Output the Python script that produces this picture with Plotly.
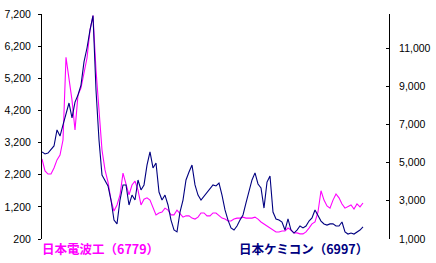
import plotly.graph_objects as go

# Weekly index (x axis is not labelled in the reference)
weeks = list(range(108))

# 日本電波工 (6779) – left axis
ndk_6779 = [
    2690, 2320, 2220, 2220, 2410, 2660, 2810, 3280, 5850, 5150,
    4520, 3590, 4680, 4900, 5400, 5830, 6700, 7150, 5460, 4210,
    2970, 2350, 1970, 1410, 1070, 1260, 1570, 2250, 1880, 1570,
    1880, 2000, 1720, 1260, 1440, 1480, 1410, 1200, 950, 1010,
    1040, 1160, 1100, 950, 950, 1100, 980, 880, 920, 920,
    850, 820, 880, 1010, 1010, 920, 920, 1010, 1010, 920,
    850, 820, 760, 760, 820, 850, 850, 880, 850, 850,
    850, 880, 820, 730, 670, 600, 540, 480, 420, 420,
    450, 450, 540, 480, 390, 390, 360, 360, 420, 540,
    670, 730, 1040, 1700, 1410, 1230, 1160, 1410, 1600, 1480,
    1290, 1160, 1200, 1260, 1130, 1290, 1200, 1320,
]

# 日本ケミコン (6997) – right axis
chemicon_6997 = [
    5560, 5450, 5500, 5660, 5870, 6710, 6390, 6970, 7490, 8120,
    7340, 8170, 8540, 9060, 10270, 11000, 11940, 12700, 8800, 6180,
    4350, 4090, 3780, 3040, 1990, 1790, 3040, 3830, 3830, 2780,
    3300, 3040, 4090, 3570, 3830, 4870, 5560, 4720, 4980, 3460,
    3040, 3300, 2780, 1990, 1470, 1370, 2410, 3040, 4090, 4510,
    4870, 3830, 3300, 3040, 3250, 3460, 3670, 3830, 3780, 3930,
    3300, 2520, 1990, 1580, 1470, 1680, 1990, 2260, 2890, 3570,
    4090, 4460, 3880, 3670, 2620, 3980, 4300, 2410, 2050, 1990,
    1890, 1470, 2050, 1470, 1310, 1470, 1680, 1580, 1680, 1940,
    2100, 2520, 2260, 1940, 1790, 1730, 1790, 1790, 1680, 1680,
    1890, 1370, 1260, 1310, 1260, 1370, 1470, 1630,
]

left_ticks = [200, 1200, 2200, 3200, 4200, 5200, 6200, 7200]
right_ticks = [1000, 3000, 5000, 7000, 9000, 11000]

label_6779 = "日本電波工（6779）"
label_6997 = "日本ケミコン（6997）"

W, H = 436, 263
L, R, T, B = 42, 47, 14, 24
plot_w = W - L - R
plot_h = H - T - B

fig = go.Figure()
fig.add_trace(go.Scatter(
    x=weeks, y=ndk_6779, mode="lines",
    line=dict(color="#FF00FF", width=1.1), yaxis="y", name=label_6779,
))
fig.add_trace(go.Scatter(
    x=weeks, y=chemicon_6997, mode="lines",
    line=dict(color="#000080", width=1.1), yaxis="y2", name=label_6997,
))

tick_font = dict(family="Liberation Sans, Arial, sans-serif", size=10.5, color="#000000")

fig.update_layout(
    width=W, height=H,
    margin=dict(l=L, r=R, t=T, b=B, pad=0, autoexpand=False),
    paper_bgcolor="white", plot_bgcolor="white",
    showlegend=False,
    separators=".,",
    xaxis=dict(
        range=[0, (len(weeks) - 1) * plot_w / 321.0],
        visible=False, showgrid=False, zeroline=False, automargin=False,
    ),
    yaxis=dict(
        range=[200, 7200], tickvals=left_ticks, tickformat=",d",
        showline=True, linecolor="black", linewidth=1,
        ticks="outside", ticklen=3, tickcolor="black", tickwidth=1,
        showgrid=False, zeroline=False, tickfont=tick_font,
        ticklabelstandoff=5, automargin=False,
    ),
    yaxis2=dict(
        range=[1000, 1000 + plot_h / 19.1 * 1000], tickvals=right_ticks, tickformat=",d",
        overlaying="y", side="right", anchor="x",
        showline=True, linecolor="black", linewidth=1,
        ticks="inside", ticklen=3, tickcolor="black", tickwidth=1,
        showgrid=False, zeroline=False, tickfont=tick_font,
        ticklabelstandoff=7, automargin=False,
    ),
)

lab_font = "Noto Sans CJK JP, sans-serif"
lab_y = -(248 - (T + plot_h)) / plot_h
fig.add_annotation(
    text="<b>" + label_6779 + "</b>", xref="paper", yref="paper",
    x=(40 - L) / plot_w, y=lab_y,
    xanchor="left", yanchor="middle", showarrow=False,
    font=dict(family=lab_font, size=12.5, color="#FF00FF"),
)
fig.add_annotation(
    text="<b>" + label_6997 + "</b>", xref="paper", yref="paper",
    x=(370 - L) / plot_w, y=lab_y,
    xanchor="right", yanchor="middle", showarrow=False,
    font=dict(family=lab_font, size=12.5, color="#000080"),
)

fig.write_html("out.html")
